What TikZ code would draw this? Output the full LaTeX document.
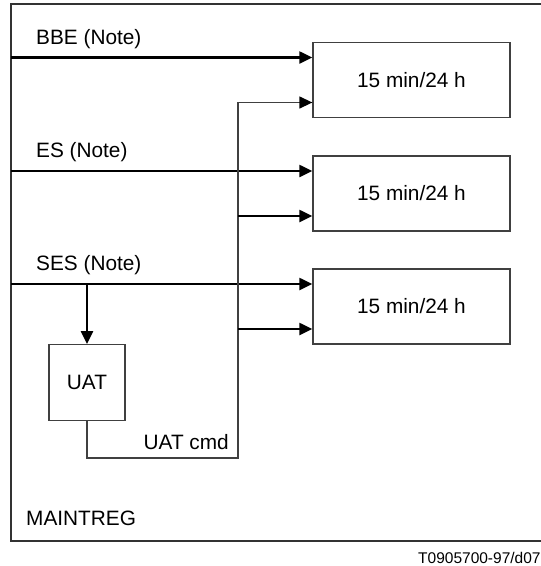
\documentclass[tikz,border=0pt]{standalone}
\usepackage{fontspec}
\setmainfont{Liberation Sans}
\usepackage{tikz}
\usetikzlibrary{arrows.meta, positioning}

\begin{document}
\begin{tikzpicture}[x=1pt, y=-1pt, font=\fontsize{20.8}{25}\selectfont]
\tikzstyle{block} = [rectangle, draw=black!75, line width=1.3pt, minimum width=197pt, minimum height=75pt, inner sep=0pt]
\tikzstyle{line} = [draw, line width=2.2pt, -{Triangle[length=13pt, width=12pt]}]
\tikzstyle{fb} = [draw, black!75, line width=1.3pt]
\tikzstyle{lbl} = [anchor=west, inner sep=0pt]
\useasboundingbox (0,0) rectangle (541,566);
% frame
\draw[black!80, line width=1.5pt] (11,4) rectangle (560,541);
\node[lbl] (mreg) at (26,518) {MAINTREG};
\node[lbl, font=\fontsize{15.5}{18}\selectfont] (fig) at (418,558) {T0905700-97/d07};
% counters
\node [block] (b1) at (411.5,80) {15 min/24 h};
\node [block] (b2) at (411.5,193.5) {15 min/24 h};
\node [block] (b3) at (411.5,306.5) {15 min/24 h};
\node [block, minimum width=76pt, minimum height=75.5pt] (uat) at (87,382.5) {UAT};
% inputs
\coordinate (bbe) at (11,57.5);
\coordinate (es) at (11,171);
\coordinate (ses) at (11,284);
\coordinate (cmd) at (238,458);
\node[lbl] (bbel) at (36,39) {BBE (Note)};
\node[lbl] (esl) at (36,152) {ES (Note)};
\node[lbl] (sesl) at (36,265) {SES (Note)};
\node[anchor=east, inner sep=0pt] (cmdl) at (229,442) {UAT cmd};
\path [line] (bbe) -- (bbe -| b1.west);
\path [line] (es) -- (es -| b2.west);
\path [line] (ses) -- (ses -| b3.west);
\path [line] (ses -| uat.north) -- (uat.north);
% UAT command
\path [fb, -{Triangle[length=13pt, width=12pt, color=black]}] (uat.south) |- (cmd) |- ([yshift=-22.5pt]b1.west);
\path [line] ([yshift=-22.5pt]b2.west -| cmd) -- ([yshift=-22.5pt]b2.west);
\path [line] ([yshift=-22.5pt]b3.west -| cmd) -- ([yshift=-22.5pt]b3.west);
\end{tikzpicture}
\end{document}
